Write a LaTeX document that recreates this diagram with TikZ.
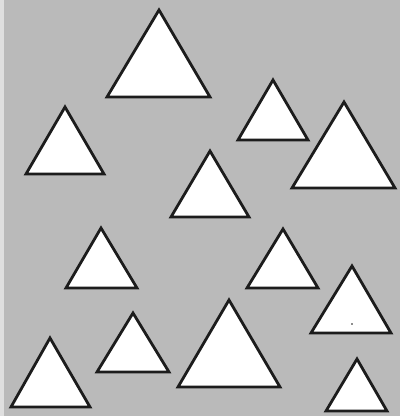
\documentclass[tikz,border=0pt]{standalone}
\definecolor{bggray}{RGB}{186,186,186}
\definecolor{edge}{RGB}{28,28,28}
\tikzset{tri/.style={draw=edge, fill=white, line width=2.8pt, line join=miter}}
\begin{document}
\begin{tikzpicture}[x=1pt,y=-1pt]
\fill[bggray] (0,0) rectangle (400,416);
\useasboundingbox (0,0) rectangle (400,416);
\fill[gray!25] (0,0) rectangle (4,416);
% top row
\draw[tri] (159,10) -- (210,97) -- (107,97) -- cycle;
\draw[tri] (273,80) -- (308,140) -- (238,140) -- cycle;
\draw[tri] (65,107) -- (104,174) -- (26,174) -- cycle;
\draw[tri] (344,102) -- (395,188) -- (292,188) -- cycle;
\draw[tri] (210,151) -- (249,217) -- (171,217) -- cycle;
% middle row
\draw[tri] (101,228) -- (137,288) -- (66,288) -- cycle;
\draw[tri] (283,229) -- (318,288) -- (247,288) -- cycle;
\draw[tri] (352,266) -- (391,333) -- (311,333) -- cycle;
% bottom row
\draw[tri] (133,313) -- (169,372) -- (97,372) -- cycle;
\draw[tri] (229,300) -- (280,387) -- (178,387) -- cycle;
\draw[tri] (50,338) -- (90,407) -- (11,407) -- cycle;
\draw[tri] (357,359) -- (387,411) -- (326,411) -- cycle;
\fill[edge] (352,324) circle (0.8);
\end{tikzpicture}
\end{document}
